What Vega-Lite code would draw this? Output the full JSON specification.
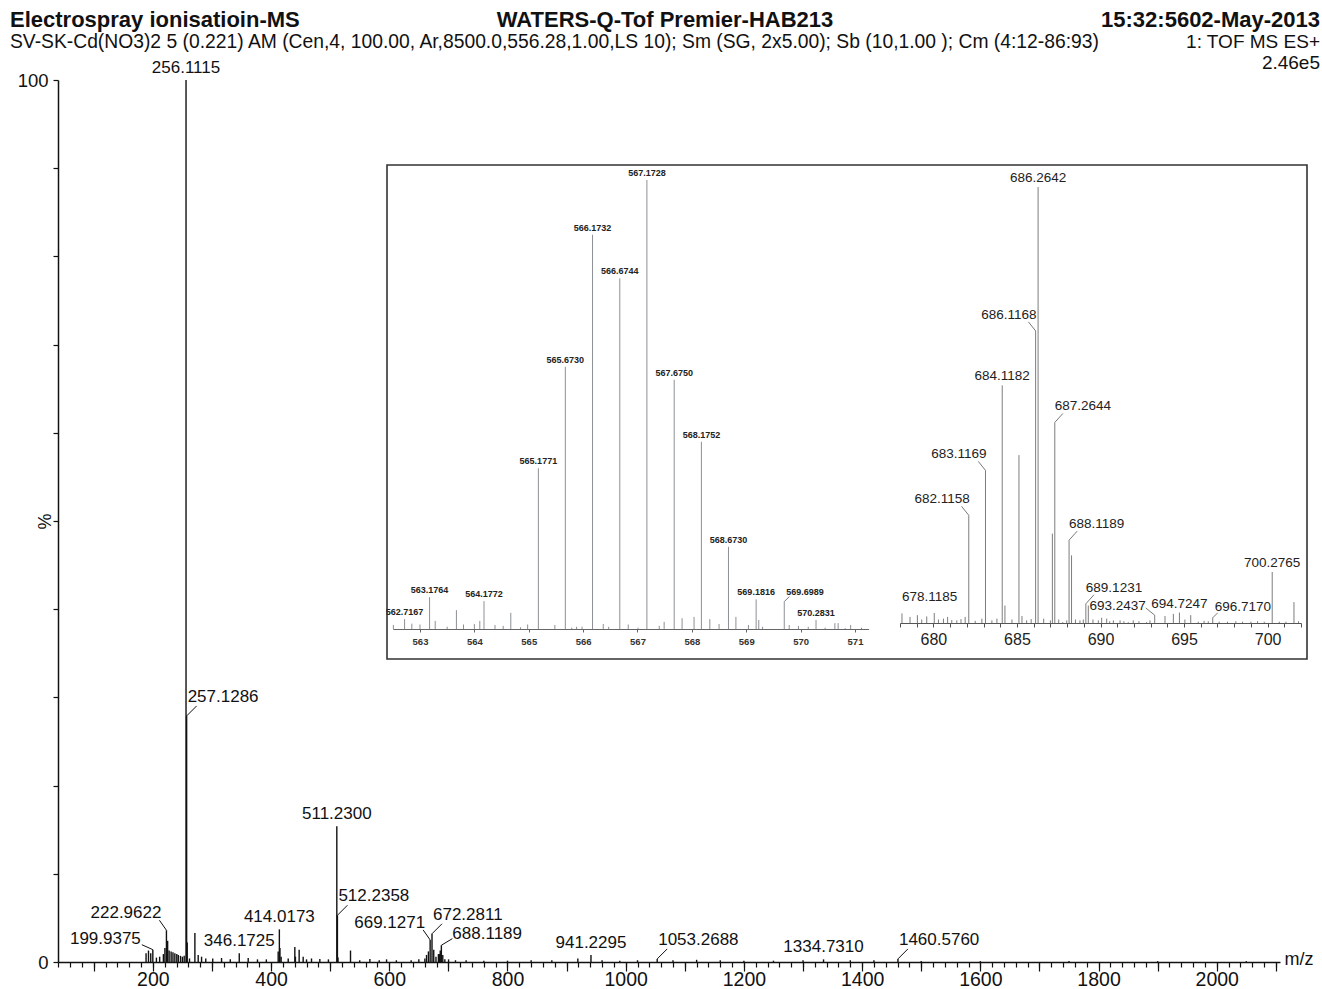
{
  "$schema": "https://vega.github.io/schema/vega-lite/v6.json",
  "width": 1222,
  "height": 882,
  "autosize": {"type": "none"},
  "padding": {"left": 58, "top": 80, "right": 42, "bottom": 27},
  "background": "white",
  "config": {
    "font": "Liberation Sans",
    "view": {"stroke": null},
    "axis": {"grid": false, "labelFont": "Liberation Sans", "titleFont": "Liberation Sans"},
    "text": {"font": "Liberation Sans"}
  },
  "datasets": {
    "main": [
      {"mz": 188.5, "intensity": 1.0}, {"mz": 192.6, "intensity": 1.3}, {"mz": 196.4, "intensity": 1.0},
      {"mz": 199.9375, "intensity": 1.4}, {"mz": 206.0, "intensity": 0.5}, {"mz": 211.5, "intensity": 0.6},
      {"mz": 217.8, "intensity": 0.9}, {"mz": 220.4, "intensity": 1.6}, {"mz": 222.9622, "intensity": 3.6},
      {"mz": 225.0, "intensity": 2.4}, {"mz": 227.5, "intensity": 1.3}, {"mz": 230.9, "intensity": 1.2},
      {"mz": 234.0, "intensity": 1.1}, {"mz": 237.2, "intensity": 1.0}, {"mz": 240.5, "intensity": 0.9},
      {"mz": 243.0, "intensity": 0.8}, {"mz": 246.7, "intensity": 0.7}, {"mz": 249.9, "intensity": 0.6},
      {"mz": 253.0, "intensity": 0.7}, {"mz": 256.1115, "intensity": 100}, {"mz": 257.1286, "intensity": 27.9},
      {"mz": 258.1, "intensity": 2.2}, {"mz": 262.0, "intensity": 0.4}, {"mz": 271.1, "intensity": 3.3},
      {"mz": 276.7, "intensity": 0.8}, {"mz": 282.4, "intensity": 0.6}, {"mz": 289.5, "intensity": 0.4},
      {"mz": 301.3, "intensity": 0.4}, {"mz": 316.2, "intensity": 0.45}, {"mz": 331.0, "intensity": 0.3},
      {"mz": 346.1725, "intensity": 1.0}, {"mz": 361.3, "intensity": 0.45}, {"mz": 377.0, "intensity": 0.3},
      {"mz": 392.0, "intensity": 0.3}, {"mz": 412.0, "intensity": 1.2}, {"mz": 414.0173, "intensity": 3.7},
      {"mz": 415.0, "intensity": 1.6}, {"mz": 417.0, "intensity": 0.6}, {"mz": 429.0, "intensity": 0.4},
      {"mz": 440.2, "intensity": 1.7}, {"mz": 441.2, "intensity": 0.6}, {"mz": 447.5, "intensity": 1.4},
      {"mz": 454.3, "intensity": 0.6}, {"mz": 460.0, "intensity": 0.3}, {"mz": 468.4, "intensity": 0.4},
      {"mz": 482.5, "intensity": 0.35}, {"mz": 497.0, "intensity": 0.3}, {"mz": 511.23, "intensity": 15.4},
      {"mz": 512.2358, "intensity": 5.3}, {"mz": 513.2, "intensity": 0.5}, {"mz": 534.4, "intensity": 1.3},
      {"mz": 550.0, "intensity": 0.2}, {"mz": 567.17, "intensity": 0.35}, {"mz": 583.0, "intensity": 0.2},
      {"mz": 595.4, "intensity": 0.3}, {"mz": 612.0, "intensity": 0.2}, {"mz": 637.0, "intensity": 0.2},
      {"mz": 650.0, "intensity": 0.3}, {"mz": 660.2, "intensity": 0.4}, {"mz": 663.0, "intensity": 0.8},
      {"mz": 666.2, "intensity": 1.2}, {"mz": 669.1271, "intensity": 2.5}, {"mz": 672.2811, "intensity": 3.2},
      {"mz": 675.2, "intensity": 1.4}, {"mz": 679.0, "intensity": 0.6}, {"mz": 683.1, "intensity": 0.9},
      {"mz": 685.1, "intensity": 0.9}, {"mz": 686.2, "intensity": 1.3}, {"mz": 688.1189, "intensity": 1.9},
      {"mz": 690.5, "intensity": 0.8}, {"mz": 694.0, "intensity": 0.3}, {"mz": 700.3, "intensity": 0.3},
      {"mz": 712.0, "intensity": 0.2}, {"mz": 730.0, "intensity": 0.2}, {"mz": 760.0, "intensity": 0.15},
      {"mz": 800.0, "intensity": 0.15}, {"mz": 840.0, "intensity": 0.2}, {"mz": 875.0, "intensity": 0.2},
      {"mz": 919.0, "intensity": 0.4}, {"mz": 941.2295, "intensity": 0.8}, {"mz": 960.0, "intensity": 0.2},
      {"mz": 990.0, "intensity": 0.15}, {"mz": 1020.0, "intensity": 0.2}, {"mz": 1053.2688, "intensity": 0.35},
      {"mz": 1080.0, "intensity": 0.2}, {"mz": 1120.0, "intensity": 0.25}, {"mz": 1160.0, "intensity": 0.2},
      {"mz": 1200.0, "intensity": 0.15}, {"mz": 1250.0, "intensity": 0.15}, {"mz": 1300.0, "intensity": 0.2},
      {"mz": 1334.731, "intensity": 0.3}, {"mz": 1380.0, "intensity": 0.2}, {"mz": 1420.0, "intensity": 0.2},
      {"mz": 1460.576, "intensity": 0.35}, {"mz": 1500.0, "intensity": 0.1}, {"mz": 1600.0, "intensity": 0.1},
      {"mz": 1750.0, "intensity": 0.1}, {"mz": 1900.0, "intensity": 0.1}, {"mz": 2050.0, "intensity": 0.1}
    ],
    "ms567": [
      {"mz": 562.51, "intensity": 0.9}, {"mz": 562.7167, "intensity": 2.2}, {"mz": 562.85, "intensity": 1.2},
      {"mz": 563.0, "intensity": 1.0}, {"mz": 563.1764, "intensity": 7.1}, {"mz": 563.28, "intensity": 1.8},
      {"mz": 563.5, "intensity": 0.5}, {"mz": 563.67, "intensity": 4.2}, {"mz": 563.8, "intensity": 1.0},
      {"mz": 564.0, "intensity": 1.1}, {"mz": 564.1, "intensity": 1.8}, {"mz": 564.1772, "intensity": 6.2},
      {"mz": 564.38, "intensity": 0.9}, {"mz": 564.53, "intensity": 0.7}, {"mz": 564.67, "intensity": 3.6},
      {"mz": 564.85, "intensity": 0.4}, {"mz": 564.98, "intensity": 1.0}, {"mz": 565.1771, "intensity": 35.8},
      {"mz": 565.48, "intensity": 0.9}, {"mz": 565.673, "intensity": 58.4}, {"mz": 565.79, "intensity": 0.3},
      {"mz": 565.88, "intensity": 0.5}, {"mz": 565.98, "intensity": 0.5}, {"mz": 566.1732, "intensity": 87.8},
      {"mz": 566.37, "intensity": 1.1}, {"mz": 566.47, "intensity": 0.5}, {"mz": 566.6744, "intensity": 78.1},
      {"mz": 566.83, "intensity": 1.0}, {"mz": 567.01, "intensity": 0.3}, {"mz": 567.1728, "intensity": 100},
      {"mz": 567.4, "intensity": 0.7}, {"mz": 567.49, "intensity": 1.6}, {"mz": 567.675, "intensity": 55.5},
      {"mz": 567.82, "intensity": 2.4}, {"mz": 568.04, "intensity": 2.7}, {"mz": 568.1752, "intensity": 41.7},
      {"mz": 568.33, "intensity": 2.2}, {"mz": 568.5, "intensity": 1.1}, {"mz": 568.673, "intensity": 18.3},
      {"mz": 568.81, "intensity": 2.7}, {"mz": 569.04, "intensity": 0.9}, {"mz": 569.1816, "intensity": 6.6},
      {"mz": 569.23, "intensity": 2.0}, {"mz": 569.3, "intensity": 0.5}, {"mz": 569.6989, "intensity": 6.1},
      {"mz": 569.79, "intensity": 0.9}, {"mz": 569.96, "intensity": 0.7}, {"mz": 570.14, "intensity": 0.5},
      {"mz": 570.2831, "intensity": 2.0}, {"mz": 570.45, "intensity": 0.3}, {"mz": 570.63, "intensity": 1.3},
      {"mz": 570.69, "intensity": 1.3}, {"mz": 570.82, "intensity": 0.2}, {"mz": 570.92, "intensity": 0.9},
      {"mz": 571.12, "intensity": 0.3}
    ],
    "ms686": [
      {"mz": 678.1185, "intensity": 2.2}, {"mz": 678.6, "intensity": 1.4}, {"mz": 679.04, "intensity": 1.8},
      {"mz": 679.3, "intensity": 0.8}, {"mz": 679.6, "intensity": 1.5}, {"mz": 680.05, "intensity": 2.3},
      {"mz": 680.3, "intensity": 0.8}, {"mz": 680.6, "intensity": 1.0}, {"mz": 680.85, "intensity": 1.4},
      {"mz": 681.1, "intensity": 0.7}, {"mz": 681.4, "intensity": 0.6}, {"mz": 681.65, "intensity": 0.9},
      {"mz": 681.9, "intensity": 1.4}, {"mz": 682.1158, "intensity": 24.7}, {"mz": 682.5, "intensity": 0.5},
      {"mz": 682.9, "intensity": 1.0}, {"mz": 683.1169, "intensity": 35.0}, {"mz": 683.5, "intensity": 0.6},
      {"mz": 683.8, "intensity": 1.0}, {"mz": 684.1182, "intensity": 54.5}, {"mz": 684.28, "intensity": 4.0},
      {"mz": 684.7, "intensity": 0.8}, {"mz": 685.12, "intensity": 38.5}, {"mz": 685.3, "intensity": 1.6},
      {"mz": 685.58, "intensity": 0.6}, {"mz": 685.85, "intensity": 0.9}, {"mz": 686.1168, "intensity": 67.0},
      {"mz": 686.2642, "intensity": 100}, {"mz": 686.6, "intensity": 1.0}, {"mz": 687.0, "intensity": 0.6},
      {"mz": 687.12, "intensity": 20.5}, {"mz": 687.2644, "intensity": 46.0}, {"mz": 687.5, "intensity": 0.8},
      {"mz": 687.74, "intensity": 0.2}, {"mz": 687.98, "intensity": 0.6}, {"mz": 688.1189, "intensity": 19.0},
      {"mz": 688.267, "intensity": 15.5}, {"mz": 688.5, "intensity": 0.8}, {"mz": 688.77, "intensity": 0.6},
      {"mz": 688.97, "intensity": 0.8}, {"mz": 689.1231, "intensity": 4.4}, {"mz": 689.27, "intensity": 4.0},
      {"mz": 689.55, "intensity": 0.8}, {"mz": 689.87, "intensity": 0.6}, {"mz": 690.07, "intensity": 1.2},
      {"mz": 690.37, "intensity": 1.0}, {"mz": 690.55, "intensity": 0.4}, {"mz": 690.77, "intensity": 0.6},
      {"mz": 691.17, "intensity": 0.6}, {"mz": 691.4, "intensity": 0.4}, {"mz": 691.66, "intensity": 0.2},
      {"mz": 691.96, "intensity": 0.6}, {"mz": 692.3, "intensity": 0.4}, {"mz": 692.76, "intensity": 0.2},
      {"mz": 692.96, "intensity": 0.6}, {"mz": 693.2437, "intensity": 1.8}, {"mz": 693.86, "intensity": 1.6},
      {"mz": 694.36, "intensity": 2.1}, {"mz": 694.7247, "intensity": 2.4}, {"mz": 695.05, "intensity": 0.8},
      {"mz": 695.4, "intensity": 1.8}, {"mz": 695.85, "intensity": 0.3}, {"mz": 696.2, "intensity": 0.5},
      {"mz": 696.45, "intensity": 0.4}, {"mz": 696.717, "intensity": 1.2}, {"mz": 697.1, "intensity": 0.3},
      {"mz": 697.6, "intensity": 0.3}, {"mz": 698.1, "intensity": 0.4}, {"mz": 698.5, "intensity": 0.3},
      {"mz": 699.0, "intensity": 0.3}, {"mz": 699.4, "intensity": 0.4}, {"mz": 699.8, "intensity": 0.3},
      {"mz": 700.2765, "intensity": 11.7}, {"mz": 700.7, "intensity": 0.3}, {"mz": 701.1, "intensity": 0.3},
      {"mz": 701.58, "intensity": 4.8}, {"mz": 701.85, "intensity": 0.4}
    ],
    "header": [
      {"text": "Electrospray ionisatioin-MS", "slot": "left", "line": 1},
      {"text": "WATERS-Q-Tof Premier-HAB213", "slot": "center", "line": 1},
      {"text": "15:32:5602-May-2013", "slot": "right", "line": 1},
      {"text": "SV-SK-Cd(NO3)2 5 (0.221) AM (Cen,4, 100.00, Ar,8500.0,556.28,1.00,LS 10); Sm (SG, 2x5.00); Sb (10,1.00 ); Cm (4:12-86:93)", "slot": "left", "line": 2},
      {"text": "1: TOF MS ES+", "slot": "right", "line": 2},
      {"text": "2.46e5", "slot": "right", "line": 3}
    ]
  },
  "layer": [
    {
      "data": {"name": "main"},
      "mark": {"type": "rule", "color": "#111", "strokeWidth": 1.4},
      "encoding": {
        "x": {
          "field": "mz", "type": "quantitative",
          "scale": {"domain": [39.5, 2107], "nice": false, "zero": false},
          "axis": {
            "title": "m/z",
            "values": [40,60,80,100,120,140,160,180,200,220,240,260,280,300,320,340,360,380,400,420,440,460,480,500,520,540,560,580,600,620,640,660,680,700,720,740,760,780,800,820,840,860,880,900,920,940,960,980,1000,1020,1040,1060,1080,1100,1120,1140,1160,1180,1200,1220,1240,1260,1280,1300,1320,1340,1360,1380,1400,1420,1440,1460,1480,1500,1520,1540,1560,1580,1600,1620,1640,1660,1680,1700,1720,1740,1760,1780,1800,1820,1840,1860,1880,1900,1920,1940,1960,1980,2000,2020,2040,2060,2080,2100],
            "format": "d",
            "labelExpr": "datum.value % 200 === 0 ? datum.label : ''",
            "labelOverlap": false,
            "labelFlush": false,
            "tickSize": 5,
            "tickColor": "#111", "tickWidth": 1.2,
            "domainColor": "#111", "domainWidth": 1.5,
            "labelFontSize": 19.5, "labelColor": "#111", "labelPadding": 3,
            "titleX": 1226, "titleY": -3, "titleAlign": "left", "titleBaseline": "middle",
            "titleFontSize": 18, "titleFontWeight": "normal", "titleColor": "#111"
          }
        },
        "y": {
          "field": "intensity", "type": "quantitative",
          "scale": {"domain": [0, 100], "nice": false},
          "axis": {
            "title": "%",
            "values": [0,10,20,30,40,50,60,70,80,90,100],
            "labelExpr": "datum.value === 0 || datum.value === 100 ? datum.label : ''",
            "tickSize": 5, "tickColor": "#111", "tickWidth": 1.2,
            "domainColor": "#111", "domainWidth": 1.5,
            "labelFontSize": 18.5, "labelColor": "#111", "labelPadding": 5,
            "titleX": -13, "titleY": 441, "titleAlign": "center", "titleBaseline": "middle",
            "titleFontSize": 18, "titleFontWeight": "normal", "titleColor": "#111"
          }
        },
        "y2": {"datum": 0}
      }
    },
    {
      "data": {"name": "main"},
      "mark": {"type": "rule", "opacity": 0},
      "encoding": {
        "x": {
          "field": "mz", "type": "quantitative",
          "scale": {"domain": [39.5, 2107], "nice": false, "zero": false},
          "axis": {
            "orient": "bottom", "title": null,
            "values": [100,200,300,400,500,600,700,800,900,1000,1100,1200,1300,1400,1500,1600,1700,1800,1900,2000,2100],
            "labels": false, "domain": false,
            "tickSize": 9, "tickColor": "#111", "tickWidth": 1.2
          }
        },
        "y": {"field": "intensity", "type": "quantitative", "scale": {"domain": [0, 100], "nice": false}, "axis": null},
        "y2": {"datum": 0}
      }
    },
    {
      "data": {"name": "main"},
      "transform": [{"filter": {"field": "mz", "oneOf": [256.1115, 511.23, 346.1725, 414.0173, 941.2295, 1334.731]}}],
      "mark": {"type": "text", "fontSize": 17, "baseline": "bottom", "dy": -3, "color": "#111"},
      "encoding": {
        "x": {"field": "mz", "type": "quantitative", "scale": {"domain": [39.5, 2107], "nice": false, "zero": false}, "axis": null},
        "y": {"field": "intensity", "type": "quantitative", "scale": {"domain": [0, 100], "nice": false}, "axis": null},
        "text": {"field": "mz", "type": "quantitative", "format": ".4f"}
      }
    },
    {
      "data": {"name": "main"},
      "transform": [{"filter": {"field": "mz", "oneOf": [257.1286, 512.2358, 672.2811, 1053.2688, 1460.576]}}],
      "mark": {"type": "text", "fontSize": 17, "baseline": "bottom", "align": "left", "dx": 1, "dy": -10, "color": "#111"},
      "encoding": {
        "x": {"field": "mz", "type": "quantitative", "scale": {"domain": [39.5, 2107], "nice": false, "zero": false}, "axis": null},
        "y": {"field": "intensity", "type": "quantitative", "scale": {"domain": [0, 100], "nice": false}, "axis": null},
        "text": {"field": "mz", "type": "quantitative", "format": ".4f"}
      }
    },
    {
      "data": {"name": "main"},
      "transform": [{"filter": {"field": "mz", "oneOf": [222.9622, 669.1271]}}],
      "mark": {"type": "text", "fontSize": 17, "baseline": "bottom", "align": "right", "dx": -5, "dy": -8, "color": "#111"},
      "encoding": {
        "x": {"field": "mz", "type": "quantitative", "scale": {"domain": [39.5, 2107], "nice": false, "zero": false}, "axis": null},
        "y": {"field": "intensity", "type": "quantitative", "scale": {"domain": [0, 100], "nice": false}, "axis": null},
        "text": {"field": "mz", "type": "quantitative", "format": ".4f"}
      }
    },
    {
      "data": {"name": "main"},
      "transform": [{"filter": {"field": "mz", "oneOf": [199.9375]}}],
      "mark": {"type": "text", "fontSize": 17, "baseline": "bottom", "align": "right", "dx": -12, "dy": -2, "color": "#111"},
      "encoding": {
        "x": {"field": "mz", "type": "quantitative", "scale": {"domain": [39.5, 2107], "nice": false, "zero": false}, "axis": null},
        "y": {"field": "intensity", "type": "quantitative", "scale": {"domain": [0, 100], "nice": false}, "axis": null},
        "text": {"field": "mz", "type": "quantitative", "format": ".4f"}
      }
    },
    {
      "data": {"name": "main"},
      "transform": [{"filter": {"field": "mz", "oneOf": [688.1189]}}],
      "mark": {"type": "text", "fontSize": 17, "baseline": "bottom", "align": "left", "dx": 11, "dy": -2, "color": "#111"},
      "encoding": {
        "x": {"field": "mz", "type": "quantitative", "scale": {"domain": [39.5, 2107], "nice": false, "zero": false}, "axis": null},
        "y": {"field": "intensity", "type": "quantitative", "scale": {"domain": [0, 100], "nice": false}, "axis": null},
        "text": {"field": "mz", "type": "quantitative", "format": ".4f"}
      }
    },
    {
      "data": {"name": "main"},
      "transform": [{"filter": {"field": "mz", "oneOf": [257.1286, 512.2358, 672.2811, 1053.2688, 1460.576]}}],
      "mark": {"type": "point", "shape": "M0,0L1,-1", "size": 400, "filled": false, "color": "#111", "strokeWidth": 1, "opacity": 1},
      "encoding": {
        "x": {"field": "mz", "type": "quantitative", "scale": {"domain": [39.5, 2107], "nice": false, "zero": false}, "axis": null},
        "y": {"field": "intensity", "type": "quantitative", "scale": {"domain": [0, 100], "nice": false}, "axis": null}
      }
    },
    {
      "data": {"name": "main"},
      "transform": [{"filter": {"field": "mz", "oneOf": [222.9622, 669.1271]}}],
      "mark": {"type": "point", "shape": "M0,0L-0.7,-1", "size": 400, "filled": false, "color": "#111", "strokeWidth": 1, "opacity": 1},
      "encoding": {
        "x": {"field": "mz", "type": "quantitative", "scale": {"domain": [39.5, 2107], "nice": false, "zero": false}, "axis": null},
        "y": {"field": "intensity", "type": "quantitative", "scale": {"domain": [0, 100], "nice": false}, "axis": null}
      }
    },
    {
      "data": {"name": "main"},
      "transform": [{"filter": {"field": "mz", "oneOf": [199.9375]}}],
      "mark": {"type": "point", "shape": "M0,0L-1,-0.45", "size": 484, "filled": false, "color": "#111", "strokeWidth": 1, "opacity": 1},
      "encoding": {
        "x": {"field": "mz", "type": "quantitative", "scale": {"domain": [39.5, 2107], "nice": false, "zero": false}, "axis": null},
        "y": {"field": "intensity", "type": "quantitative", "scale": {"domain": [0, 100], "nice": false}, "axis": null}
      }
    },
    {
      "data": {"name": "main"},
      "transform": [{"filter": {"field": "mz", "oneOf": [688.1189]}}],
      "mark": {"type": "point", "shape": "M0,0L1,-0.6", "size": 484, "filled": false, "color": "#111", "strokeWidth": 1, "opacity": 1},
      "encoding": {
        "x": {"field": "mz", "type": "quantitative", "scale": {"domain": [39.5, 2107], "nice": false, "zero": false}, "axis": null},
        "y": {"field": "intensity", "type": "quantitative", "scale": {"domain": [0, 100], "nice": false}, "axis": null}
      }
    },
    {
      "data": {"name": "ms567"},
      "mark": {"type": "rule", "color": "#8c9096", "strokeWidth": 1},
      "encoding": {
        "x": {
          "field": "mz", "type": "quantitative",
          "scale": {"domain": [562.5, 571.25], "range": [334.8, 810.6], "nice": false, "zero": false},
          "axis": {
            "orient": "bottom", "offset": -333, "title": null,
            "values": [563,564,565,566,567,568,569,570,571],
            "format": "d",
            "labelOverlap": false, "labelFlush": false,
            "tickSize": 3,
            "tickColor": "#666", "domainColor": "#666", "domainWidth": 1,
            "labelFontSize": 9.5, "labelFontWeight": "bold", "labelColor": "#333", "labelPadding": 4
          }
        },
        "y": {"field": "intensity", "type": "quantitative", "scale": {"domain": [0, 100], "range": [549, 100], "nice": false}, "axis": null},
        "y2": {"datum": 0}
      }
    },
    {
      "data": {"name": "ms567"},
      "transform": [{"filter": {"field": "mz", "oneOf": [562.7167, 563.1764, 564.1772, 565.1771, 565.673, 566.1732, 566.6744, 567.1728, 567.675, 568.1752, 568.673, 569.1816, 570.2831]}}],
      "mark": {"type": "text", "fontSize": 9, "fontWeight": "bold", "baseline": "bottom", "dy": -2, "color": "#222"},
      "encoding": {
        "x": {"field": "mz", "type": "quantitative", "scale": {"domain": [562.5, 571.25], "range": [334.8, 810.6], "nice": false, "zero": false}, "axis": null},
        "y": {"field": "intensity", "type": "quantitative", "scale": {"domain": [0, 100], "range": [549, 100], "nice": false}, "axis": null},
        "text": {"field": "mz", "type": "quantitative", "format": ".4f"}
      }
    },
    {
      "data": {"name": "ms567"},
      "transform": [{"filter": {"field": "mz", "oneOf": [569.6989]}}],
      "mark": {"type": "text", "fontSize": 9, "fontWeight": "bold", "baseline": "bottom", "align": "left", "dx": 2, "dy": -5, "color": "#222"},
      "encoding": {
        "x": {"field": "mz", "type": "quantitative", "scale": {"domain": [562.5, 571.25], "range": [334.8, 810.6], "nice": false, "zero": false}, "axis": null},
        "y": {"field": "intensity", "type": "quantitative", "scale": {"domain": [0, 100], "range": [549, 100], "nice": false}, "axis": null},
        "text": {"field": "mz", "type": "quantitative", "format": ".4f"}
      }
    },
    {
      "data": {"name": "ms567"},
      "transform": [{"filter": {"field": "mz", "oneOf": [569.6989]}}],
      "mark": {"type": "point", "shape": "M0,0L1,-1", "size": 100, "filled": false, "color": "#555", "strokeWidth": 0.8, "opacity": 1},
      "encoding": {
        "x": {"field": "mz", "type": "quantitative", "scale": {"domain": [562.5, 571.25], "range": [334.8, 810.6], "nice": false, "zero": false}, "axis": null},
        "y": {"field": "intensity", "type": "quantitative", "scale": {"domain": [0, 100], "range": [549, 100], "nice": false}, "axis": null}
      }
    },
    {
      "data": {"name": "ms686"},
      "mark": {"type": "rule", "color": "#7d7d7d", "strokeWidth": 1},
      "encoding": {
        "x": {
          "field": "mz", "type": "quantitative",
          "scale": {"domain": [678, 702], "range": [842, 1243], "nice": false, "zero": false},
          "axis": {
            "orient": "bottom", "offset": -339, "title": null,
            "values": [678,679,680,681,682,683,684,685,686,687,688,689,690,691,692,693,694,695,696,697,698,699,700,701,702],
            "format": "d",
            "labelExpr": "datum.value % 5 === 0 ? datum.label : ''",
            "labelOverlap": false, "labelFlush": false,
            "tickSize": 4,
            "tickColor": "#555", "domainColor": "#555", "domainWidth": 1,
            "labelFontSize": 16, "labelColor": "#222", "labelPadding": 4
          }
        },
        "y": {"field": "intensity", "type": "quantitative", "scale": {"domain": [0, 100], "range": [543, 107], "nice": false}, "axis": null},
        "y2": {"datum": 0}
      }
    },
    {
      "data": {"name": "ms686"},
      "transform": [{"filter": {"field": "mz", "oneOf": [686.2642, 684.1182, 694.7247, 700.2765]}}],
      "mark": {"type": "text", "fontSize": 13.5, "baseline": "bottom", "dy": -2, "color": "#222"},
      "encoding": {
        "x": {"field": "mz", "type": "quantitative", "scale": {"domain": [678, 702], "range": [842, 1243], "nice": false, "zero": false}, "axis": null},
        "y": {"field": "intensity", "type": "quantitative", "scale": {"domain": [0, 100], "range": [543, 107], "nice": false}, "axis": null},
        "text": {"field": "mz", "type": "quantitative", "format": ".4f"}
      }
    },
    {
      "data": {"name": "ms686"},
      "transform": [{"filter": {"field": "mz", "oneOf": [686.1168, 683.1169, 682.1158]}}],
      "mark": {"type": "text", "fontSize": 13.5, "baseline": "bottom", "align": "right", "dx": 1, "dy": -9, "color": "#222"},
      "encoding": {
        "x": {"field": "mz", "type": "quantitative", "scale": {"domain": [678, 702], "range": [842, 1243], "nice": false, "zero": false}, "axis": null},
        "y": {"field": "intensity", "type": "quantitative", "scale": {"domain": [0, 100], "range": [543, 107], "nice": false}, "axis": null},
        "text": {"field": "mz", "type": "quantitative", "format": ".4f"}
      }
    },
    {
      "data": {"name": "ms686"},
      "transform": [{"filter": {"field": "mz", "oneOf": [693.2437]}}],
      "mark": {"type": "text", "fontSize": 13.5, "baseline": "bottom", "align": "right", "dx": -9, "dy": -2, "color": "#222"},
      "encoding": {
        "x": {"field": "mz", "type": "quantitative", "scale": {"domain": [678, 702], "range": [842, 1243], "nice": false, "zero": false}, "axis": null},
        "y": {"field": "intensity", "type": "quantitative", "scale": {"domain": [0, 100], "range": [543, 107], "nice": false}, "axis": null},
        "text": {"field": "mz", "type": "quantitative", "format": ".4f"}
      }
    },
    {
      "data": {"name": "ms686"},
      "transform": [{"filter": {"field": "mz", "oneOf": [687.2644, 688.1189, 689.1231, 678.1185]}}],
      "mark": {"type": "text", "fontSize": 13.5, "baseline": "bottom", "align": "left", "dx": 0, "dy": -9, "color": "#222"},
      "encoding": {
        "x": {"field": "mz", "type": "quantitative", "scale": {"domain": [678, 702], "range": [842, 1243], "nice": false, "zero": false}, "axis": null},
        "y": {"field": "intensity", "type": "quantitative", "scale": {"domain": [0, 100], "range": [543, 107], "nice": false}, "axis": null},
        "text": {"field": "mz", "type": "quantitative", "format": ".4f"}
      }
    },
    {
      "data": {"name": "ms686"},
      "transform": [{"filter": {"field": "mz", "oneOf": [696.717]}}],
      "mark": {"type": "text", "fontSize": 13.5, "baseline": "bottom", "align": "left", "dx": 2, "dy": -4, "color": "#222"},
      "encoding": {
        "x": {"field": "mz", "type": "quantitative", "scale": {"domain": [678, 702], "range": [842, 1243], "nice": false, "zero": false}, "axis": null},
        "y": {"field": "intensity", "type": "quantitative", "scale": {"domain": [0, 100], "range": [543, 107], "nice": false}, "axis": null},
        "text": {"field": "mz", "type": "quantitative", "format": ".4f"}
      }
    },
    {
      "data": {"name": "ms686"},
      "transform": [{"filter": {"field": "mz", "oneOf": [686.1168, 683.1169, 682.1158]}}],
      "mark": {"type": "point", "shape": "M0,0L-0.8,-1", "size": 324, "filled": false, "color": "#555", "strokeWidth": 0.8, "opacity": 1},
      "encoding": {
        "x": {"field": "mz", "type": "quantitative", "scale": {"domain": [678, 702], "range": [842, 1243], "nice": false, "zero": false}, "axis": null},
        "y": {"field": "intensity", "type": "quantitative", "scale": {"domain": [0, 100], "range": [543, 107], "nice": false}, "axis": null}
      }
    },
    {
      "data": {"name": "ms686"},
      "transform": [{"filter": {"field": "mz", "oneOf": [687.2644, 688.1189, 689.1231]}}],
      "mark": {"type": "point", "shape": "M0,0L0.9,-1", "size": 324, "filled": false, "color": "#555", "strokeWidth": 0.8, "opacity": 1},
      "encoding": {
        "x": {"field": "mz", "type": "quantitative", "scale": {"domain": [678, 702], "range": [842, 1243], "nice": false, "zero": false}, "axis": null},
        "y": {"field": "intensity", "type": "quantitative", "scale": {"domain": [0, 100], "range": [543, 107], "nice": false}, "axis": null}
      }
    },
    {
      "data": {"name": "ms686"},
      "transform": [{"filter": {"field": "mz", "oneOf": [693.2437]}}],
      "mark": {"type": "point", "shape": "M0,0L-1,-0.8", "size": 324, "filled": false, "color": "#555", "strokeWidth": 0.8, "opacity": 1},
      "encoding": {
        "x": {"field": "mz", "type": "quantitative", "scale": {"domain": [678, 702], "range": [842, 1243], "nice": false, "zero": false}, "axis": null},
        "y": {"field": "intensity", "type": "quantitative", "scale": {"domain": [0, 100], "range": [543, 107], "nice": false}, "axis": null}
      }
    },
    {
      "data": {"name": "ms686"},
      "transform": [{"filter": {"field": "mz", "oneOf": [696.717]}}],
      "mark": {"type": "point", "shape": "M0,0L1,-1", "size": 100, "filled": false, "color": "#555", "strokeWidth": 0.8, "opacity": 1},
      "encoding": {
        "x": {"field": "mz", "type": "quantitative", "scale": {"domain": [678, 702], "range": [842, 1243], "nice": false, "zero": false}, "axis": null},
        "y": {"field": "intensity", "type": "quantitative", "scale": {"domain": [0, 100], "range": [543, 107], "nice": false}, "axis": null}
      }
    },
    {
      "data": {"values": [{}]},
      "mark": {"type": "rect", "filled": false, "color": "#333", "strokeWidth": 1.6},
      "encoding": {
        "x": {"datum": 0, "type": "quantitative", "scale": {"domain": [0, 1], "range": [329, 1249]}, "axis": null},
        "x2": {"datum": 1},
        "y": {"datum": 0, "type": "quantitative", "scale": {"domain": [0, 1], "range": [579, 85]}, "axis": null},
        "y2": {"datum": 1}
      }
    },
    {
      "data": {"name": "header"},
      "transform": [{"filter": "datum.line === 1 && datum.slot === 'left'"}],
      "mark": {"type": "text", "align": "left", "baseline": "middle", "fontSize": 22, "fontWeight": "bold", "color": "#111"},
      "encoding": {
        "x": {"field": "slot", "type": "nominal", "scale": {"type": "point", "domain": ["left", "center", "right"], "range": [-48, 1262], "padding": 0}, "axis": null},
        "y": {"field": "line", "type": "ordinal", "scale": {"type": "point", "domain": [1, 2, 3], "range": [-60, -17], "padding": 0}, "axis": null},
        "text": {"field": "text"}
      }
    },
    {
      "data": {"name": "header"},
      "transform": [{"filter": "datum.line === 1 && datum.slot === 'center'"}],
      "mark": {"type": "text", "align": "center", "baseline": "middle", "fontSize": 22, "fontWeight": "bold", "color": "#111"},
      "encoding": {
        "x": {"field": "slot", "type": "nominal", "scale": {"type": "point", "domain": ["left", "center", "right"], "range": [-48, 1262], "padding": 0}, "axis": null},
        "y": {"field": "line", "type": "ordinal", "scale": {"type": "point", "domain": [1, 2, 3], "range": [-60, -17], "padding": 0}, "axis": null},
        "text": {"field": "text"}
      }
    },
    {
      "data": {"name": "header"},
      "transform": [{"filter": "datum.line === 1 && datum.slot === 'right'"}],
      "mark": {"type": "text", "align": "right", "baseline": "middle", "fontSize": 22, "fontWeight": "bold", "color": "#111"},
      "encoding": {
        "x": {"field": "slot", "type": "nominal", "scale": {"type": "point", "domain": ["left", "center", "right"], "range": [-48, 1262], "padding": 0}, "axis": null},
        "y": {"field": "line", "type": "ordinal", "scale": {"type": "point", "domain": [1, 2, 3], "range": [-60, -17], "padding": 0}, "axis": null},
        "text": {"field": "text"}
      }
    },
    {
      "data": {"name": "header"},
      "transform": [{"filter": "datum.line > 1 && datum.slot === 'left'"}],
      "mark": {"type": "text", "align": "left", "baseline": "middle", "fontSize": 19.3, "color": "#111"},
      "encoding": {
        "x": {"field": "slot", "type": "nominal", "scale": {"type": "point", "domain": ["left", "center", "right"], "range": [-48, 1262], "padding": 0}, "axis": null},
        "y": {"field": "line", "type": "ordinal", "scale": {"type": "point", "domain": [1, 2, 3], "range": [-60, -17], "padding": 0}, "axis": null},
        "text": {"field": "text"}
      }
    },
    {
      "data": {"name": "header"},
      "transform": [{"filter": "datum.line > 1 && datum.slot === 'right'"}],
      "mark": {"type": "text", "align": "right", "baseline": "middle", "fontSize": 19, "color": "#111"},
      "encoding": {
        "x": {"field": "slot", "type": "nominal", "scale": {"type": "point", "domain": ["left", "center", "right"], "range": [-48, 1262], "padding": 0}, "axis": null},
        "y": {"field": "line", "type": "ordinal", "scale": {"type": "point", "domain": [1, 2, 3], "range": [-60, -17], "padding": 0}, "axis": null},
        "text": {"field": "text"}
      }
    }
  ],
  "resolve": {"scale": {"x": "independent", "y": "independent"}}
}
